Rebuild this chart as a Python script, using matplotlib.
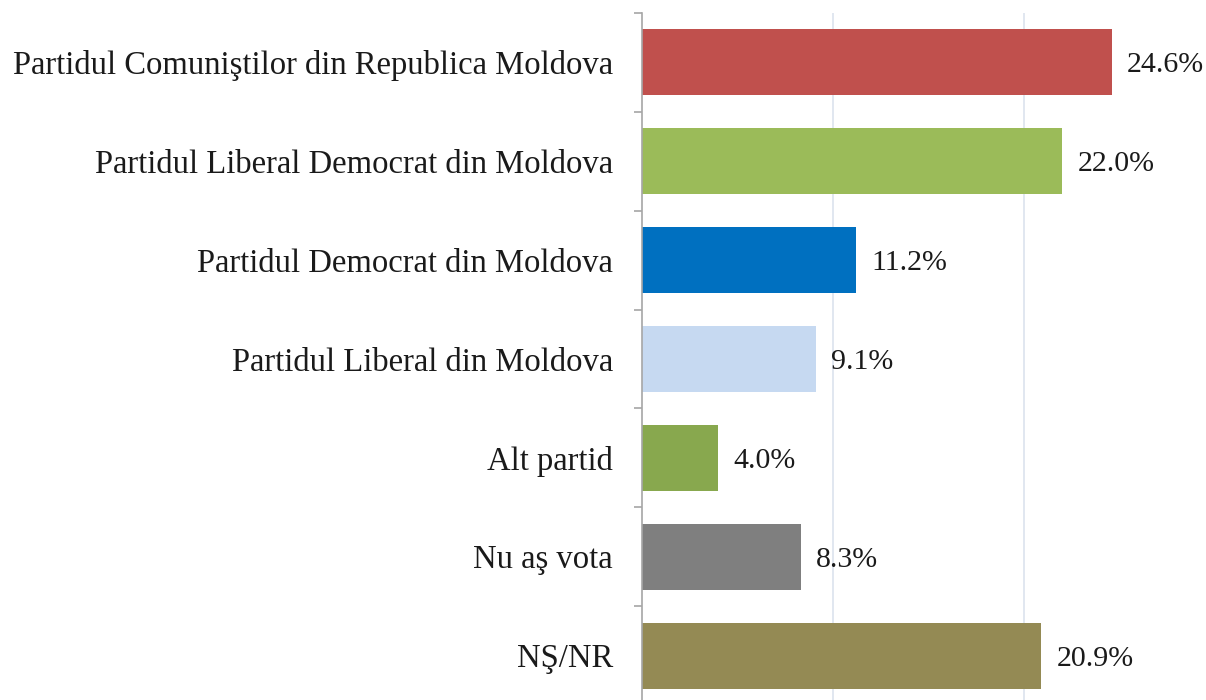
import matplotlib
matplotlib.use("Agg")
import matplotlib.pyplot as plt
from matplotlib.ticker import FixedLocator

categories = [
    "Partidul Comuniştilor din Republica Moldova",
    "Partidul Liberal Democrat din Moldova",
    "Partidul Democrat din Moldova",
    "Partidul Liberal din Moldova",
    "Alt partid",
    "Nu aş vota",
    "NŞ/NR",
]
values = [24.6, 22.0, 11.2, 9.1, 4.0, 8.3, 20.9]
colors = ["#C0504D", "#9BBB59", "#0070C0", "#C6D9F1", "#88A84E", "#7F7F7F", "#948A54"]
value_labels = ["24.6%", "22.0%", "11.2%", "9.1%", "4.0%", "8.3%", "20.9%"]

plt.rcParams["font.family"] = ["Liberation Serif", "DejaVu Serif"]

fig = plt.figure(figsize=(12.06, 7.0), dpi=100)
W, H = 1206, 700
left_px, right_px = 642, 642 + 30 * 19.1
top_px, bot_px = 13, 705
ax = fig.add_axes([left_px / W, 1 - bot_px / H, (right_px - left_px) / W, (bot_px - top_px) / H])

y = list(range(len(categories)))
ax.barh(y, values, height=0.667, color=colors, zorder=3)
ax.set_xlim(0, 30)
ax.set_ylim(len(categories) - 0.5, -0.5)

for yi, v, lab in zip(y, values, value_labels):
    ax.annotate(lab, (v, yi), xytext=(11, 0), textcoords="offset points",
                ha="left", va="center_baseline", fontsize=21.5, color="#1a1a1a")

ax.set_yticks(y)
ax.set_yticklabels(categories, fontsize=23.5, color="#1a1a1a", va="center_baseline")
ax.tick_params(axis="y", which="major", length=0, pad=21)
ax.yaxis.set_minor_locator(FixedLocator([i - 0.5 for i in range(len(categories) + 1)]))
ax.tick_params(axis="y", which="minor", length=6, width=1.2, color="#A6A6A6", direction="out")

ax.set_xticks([10, 20, 30])
ax.tick_params(axis="x", length=0, labelbottom=False)
ax.grid(axis="x", color="#DCE3EE", linewidth=1.2, zorder=0)

for s in ["top", "right", "bottom"]:
    ax.spines[s].set_visible(False)
ax.spines["left"].set_color("#A6A6A6")
ax.spines["left"].set_linewidth(1.2)
ax.spines["left"].set_zorder(4)

fig.savefig("out.png", dpi=100)
